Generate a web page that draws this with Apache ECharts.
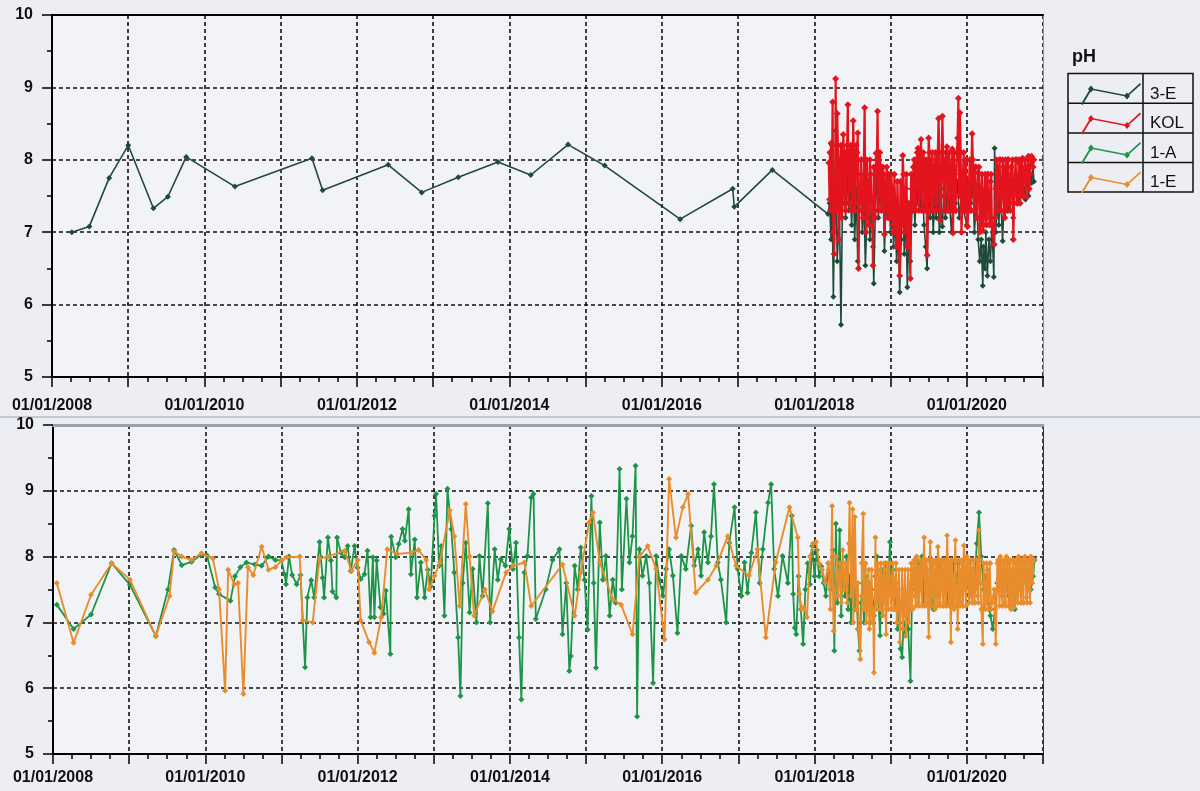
<!DOCTYPE html>
<html><head><meta charset="utf-8">
<script src="https://cdn.jsdelivr.net/npm/echarts@6/dist/echarts.min.js"></script>
<style>html,body{margin:0;padding:0;background:#eceef4;}#c{width:1200px;height:791px;}</style>
</head><body><div id="c"></div>
<script>
// ---- Data (x = decimal year, y = pH) ----
const seriesNames = ['3-E', 'KOL', '1-A', '1-E'];
const xTickLabels = ['01/01/2008','01/01/2010','01/01/2012','01/01/2014','01/01/2016','01/01/2018','01/01/2020'];
const legendTitle = 'pH';

const data3E = [
[2008.26,7.00],[2008.49,7.08],[2008.75,7.75],[2009.00,8.20],[2009.33,7.33],[2009.52,7.49],[2009.76,8.04],[2010.40,7.63],
[2011.41,8.02],[2011.55,7.58],[2012.41,7.93],[2012.85,7.55],[2013.33,7.76],[2013.85,7.97],[2014.28,7.79],[2014.77,8.21],
[2015.25,7.92],[2016.24,7.18],[2016.93,7.60],[2016.95,7.35],[2017.45,7.86],[2018.18,7.25],
[2018.20,7.40],[2018.22,6.90],[2018.23,7.90],[2018.25,6.11],[2018.27,7.60],[2018.28,8.40],[2018.30,6.60],[2018.33,7.30],
[2018.35,5.72],[2018.37,7.50],[2018.39,8.00],[2018.41,7.20],[2018.43,7.90],[2018.45,7.30],[2018.47,7.60],[2018.49,7.10],
[2018.51,7.80],[2018.53,6.90],[2018.55,7.60],[2018.57,6.60],[2018.59,7.30],[2018.61,7.80],[2018.63,7.00],[2018.65,7.50],
[2018.67,6.54],[2018.69,7.20],[2018.71,7.70],[2018.73,6.90],[2018.75,7.40],[2018.77,6.80],[2018.78,6.29],[2018.80,7.30],
[2018.82,7.80],[2018.84,7.20],[2018.86,7.60],[2018.88,7.30],[2018.90,7.70],[2018.92,6.74],[2018.94,7.40],[2018.96,7.20],
[2018.98,7.60],[2019.00,7.00],[2019.02,7.40],[2019.04,6.80],[2019.06,7.20],[2019.08,6.60],[2019.10,7.00],[2019.12,6.17],
[2019.14,6.90],[2019.16,7.60],[2019.18,6.70],[2019.20,7.30],[2019.22,6.24],[2019.24,7.00],[2019.26,6.60],[2019.28,7.30],
[2019.30,7.60],[2019.32,7.10],[2019.34,7.70],[2019.36,7.40],[2019.38,7.80],[2019.40,7.30],[2019.42,7.60],[2019.44,7.10],
[2019.46,6.80],[2019.48,6.50],[2019.50,7.70],[2019.52,7.20],[2019.54,7.60],[2019.56,7.00],[2019.58,7.50],[2019.60,7.20],
[2019.62,7.80],[2019.64,7.00],[2019.66,7.30],[2019.68,7.08],[2019.70,7.60],[2019.72,7.20],[2019.75,7.70],[2019.78,7.30],
[2019.80,7.00],[2019.83,7.60],[2019.85,7.40],[2019.88,7.70],[2019.90,7.20],[2019.93,7.50],[2019.96,7.30],[2020.00,7.10],
[2020.03,7.50],[2020.05,7.40],[2020.08,7.70],[2020.10,7.00],[2020.13,7.50],[2020.15,6.90],[2020.17,6.60],[2020.19,6.90],
[2020.21,6.26],[2020.22,6.80],[2020.24,6.50],[2020.25,7.00],[2020.27,6.40],[2020.29,6.90],[2020.31,6.60],[2020.33,7.10],
[2020.355,6.38],[2020.365,8.16],[2020.38,7.00],[2020.40,7.50],[2020.42,7.10],[2020.44,7.60],[2020.47,6.88],[2020.49,7.50],
[2020.52,7.70],[2020.55,7.30],[2020.58,7.80],[2020.61,7.20],[2020.64,7.70],[2020.67,7.40],[2020.70,7.80],[2020.73,7.50],
[2020.76,7.60],[2020.77,7.45],[2020.79,7.80],[2020.81,7.50],[2020.83,7.90],[2020.85,7.68],[2020.87,7.90],[2020.88,7.70]
];

const dataKOL = [
[2018.19,7.96],[2018.20,7.45],[2018.22,8.23],[2018.24,8.80],[2018.25,7.00],[2018.26,6.70],[2018.28,9.12],[2018.29,7.30],
[2018.30,8.64],[2018.32,6.90],[2018.34,8.00],[2018.36,7.20],[2018.38,8.35],[2018.40,7.50],[2018.42,8.10],[2018.44,8.76],
[2018.46,7.40],[2018.48,8.20],[2018.50,7.60],[2018.51,8.54],[2018.53,7.30],[2018.55,8.20],[2018.57,8.37],[2018.58,6.50],
[2018.60,7.50],[2018.62,8.00],[2018.64,7.20],[2018.66,8.72],[2018.68,7.00],[2018.70,7.60],[2018.72,7.10],[2018.74,7.80],
[2018.75,7.40],[2018.77,6.54],[2018.79,7.50],[2018.81,8.09],[2018.83,8.67],[2018.85,7.70],[2018.87,7.90],[2018.89,7.50],
[2018.91,7.80],[2018.92,6.97],[2018.94,7.70],[2018.96,7.40],[2018.98,7.80],[2019.00,7.20],[2019.02,7.60],[2019.04,7.00],
[2019.06,7.40],[2019.08,6.80],[2019.10,7.30],[2019.12,6.40],[2019.14,7.20],[2019.16,8.06],[2019.18,7.00],[2019.20,7.60],
[2019.22,6.80],[2019.24,7.40],[2019.26,6.36],[2019.28,7.60],[2019.30,7.90],[2019.32,7.40],[2019.34,8.00],[2019.36,8.16],
[2019.38,7.60],[2019.40,8.28],[2019.42,7.70],[2019.44,8.00],[2019.46,7.40],[2019.48,6.68],[2019.50,8.30],[2019.52,7.60],
[2019.54,8.00],[2019.56,7.30],[2019.58,7.90],[2019.60,7.40],[2019.62,8.10],[2019.63,8.57],[2019.65,7.17],[2019.67,7.90],
[2019.68,8.60],[2019.70,7.50],[2019.72,8.00],[2019.74,8.18],[2019.76,7.30],[2019.78,7.90],[2019.80,7.50],[2019.81,8.15],
[2019.82,6.99],[2019.84,7.80],[2019.86,7.30],[2019.88,8.30],[2019.89,8.85],[2019.90,7.50],[2019.91,8.65],[2019.93,7.00],
[2019.95,7.80],[2019.97,7.40],[2019.99,8.00],[2020.01,7.08],[2020.03,7.70],[2020.05,7.30],[2020.07,8.36],[2020.09,7.50],
[2020.11,7.90],[2020.13,7.20],[2020.15,7.82],[2020.17,7.00],[2020.19,7.60],[2020.21,7.02],[2020.23,7.50],[2020.25,7.20],
[2020.27,7.80],[2020.29,7.30],[2020.31,7.70],[2020.33,7.10],[2020.36,6.83],[2020.38,7.60],[2020.40,7.90],[2020.42,7.30],
[2020.44,8.00],[2020.46,7.50],[2020.48,7.90],[2020.50,7.20],[2020.52,7.80],[2020.54,8.00],[2020.56,7.40],[2020.58,7.90],
[2020.61,6.90],[2020.63,7.70],[2020.65,8.00],[2020.67,7.50],[2020.69,7.95],[2020.71,7.60],[2020.73,8.02],[2020.75,7.50],
[2020.77,7.90],[2020.79,7.70],[2020.81,8.05],[2020.83,7.80],[2020.85,8.05],[2020.87,7.90],[2020.88,8.00]
];

const dataKOLBand = [
[2018.205,8.10],[2018.215,7.30],[2018.235,8.20],[2018.275,7.40],[2018.31,8.20],[2018.33,7.30],[2018.35,8.20],[2018.37,7.40],
[2018.39,8.10],[2018.41,7.30],[2018.43,8.20],[2018.45,7.40],[2018.47,8.10],[2018.49,7.30],[2018.52,8.10],[2018.54,7.40],
[2018.56,8.10],[2018.59,7.30],[2018.61,8.00],[2018.63,7.30],[2018.65,8.00],[2018.67,7.40],[2018.69,8.00],[2018.71,7.30],
[2018.73,8.00],[2018.76,7.30],[2018.78,7.90],[2018.80,7.20],[2018.82,8.00],[2018.84,7.30],[2018.86,8.10],[2018.88,7.30],
[2018.90,7.90],[2018.93,7.30],[2018.95,7.90],[2018.97,7.20],[2019.01,7.80],[2019.03,7.10],[2019.05,7.80],[2019.07,7.10],
[2019.09,7.70],[2019.13,7.70],[2019.15,7.10],[2019.17,7.80],[2019.19,7.20],[2019.21,7.80],[2019.23,7.10],[2019.27,7.80],
[2019.29,7.30],[2019.31,8.00],[2019.33,7.30],[2019.35,8.10],[2019.37,7.30],[2019.39,8.10],[2019.41,7.30],[2019.43,8.10],
[2019.45,7.30],[2019.47,8.00],[2019.49,7.30],[2019.51,8.10],[2019.53,7.30],[2019.55,8.10],[2019.57,7.30],[2019.59,8.10],
[2019.61,7.30],[2019.64,8.10],[2019.66,7.30],[2019.69,8.10],[2019.71,7.30],[2019.73,8.10],[2019.75,7.30],[2019.77,8.10],
[2019.79,7.30],[2019.83,8.10],[2019.85,7.30],[2019.87,8.10],[2019.92,8.10],[2019.94,7.30],[2019.96,8.10],[2019.98,7.30],
[2020.00,8.00],[2020.02,7.30],[2020.04,8.00],[2020.06,7.30],[2020.08,8.00],[2020.10,7.30],[2020.12,7.90],[2020.14,7.20],
[2020.16,7.90],[2020.18,7.10],[2020.20,7.80],[2020.22,7.10],[2020.24,7.80],[2020.26,7.10],[2020.28,7.80],[2020.30,7.10],
[2020.32,7.80],[2020.37,7.20],[2020.39,8.00],[2020.41,7.30],[2020.43,8.00],[2020.45,7.30],[2020.47,8.00],[2020.49,7.30],
[2020.51,8.00],[2020.53,7.30],[2020.55,8.00],[2020.57,7.30],[2020.60,8.00],[2020.62,7.40],[2020.64,8.00],[2020.66,7.40],
[2020.68,8.00],[2020.70,7.40],[2020.72,8.00],[2020.74,7.50],[2020.76,8.00],[2020.78,7.50],[2020.80,8.00],[2020.82,7.60]
];

const data1A = [
[2008.05,7.27],[2008.27,6.90],[2008.50,7.12],[2008.77,7.90],[2009.01,7.57],[2009.35,6.79],[2009.51,7.50],[2009.59,8.10],
[2009.69,7.87],[2009.82,7.92],[2009.95,8.03],[2010.02,8.02],[2010.13,7.53],[2010.18,7.43],[2010.33,7.33],[2010.39,7.70],
[2010.46,7.84],[2010.54,7.91],[2010.65,7.88],[2010.74,7.86],[2010.83,8.00],[2010.92,7.95],[2011.00,7.94],
[2011.04,7.73],[2011.06,7.58],[2011.10,8.00],[2011.14,7.72],[2011.20,7.58],[2011.25,7.72],[2011.31,6.32],[2011.34,7.38],
[2011.39,7.64],[2011.43,7.38],[2011.50,8.22],[2011.54,7.68],[2011.56,7.38],[2011.61,8.29],[2011.65,7.94],[2011.67,7.47],
[2011.72,7.38],[2011.73,8.29],[2011.78,8.06],[2011.83,7.99],[2011.87,8.16],[2011.91,7.78],[2011.96,8.16],[2012.00,7.83],
[2012.04,7.66],[2012.09,7.73],[2012.13,8.09],[2012.17,7.08],[2012.20,7.99],[2012.22,7.08],[2012.25,7.94],[2012.30,7.23],
[2012.34,7.13],[2012.37,7.48],[2012.43,6.52],[2012.44,8.30],[2012.50,7.99],[2012.54,8.19],[2012.59,8.42],[2012.62,8.24],
[2012.67,8.72],[2012.70,7.73],[2012.75,8.26],[2012.78,7.38],[2012.83,7.91],[2012.88,7.38],[2012.92,7.80],[2012.96,7.55],
[2013.01,8.62],[2013.03,8.95],[2013.07,7.86],[2013.10,8.16],[2013.14,7.10],[2013.18,9.03],[2013.23,8.42],[2013.27,7.76],
[2013.32,6.77],[2013.35,5.88],[2013.38,7.60],[2013.42,8.21],[2013.47,7.15],[2013.51,7.81],[2013.56,7.00],[2013.60,8.01],
[2013.64,7.40],[2013.71,8.81],[2013.74,7.00],[2013.80,8.11],[2013.84,7.65],[2013.88,7.96],[2013.94,7.86],[2013.99,8.42],
[2014.04,7.81],[2014.08,8.21],[2014.12,6.77],[2014.15,5.83],[2014.19,7.76],[2014.23,8.01],[2014.28,8.90],[2014.31,8.95],
[2014.34,7.05],[2014.47,7.50],[2014.56,7.95],[2014.65,8.11],[2014.69,6.82],[2014.74,7.60],[2014.78,6.26],[2014.80,6.49],
[2014.85,7.86],[2014.89,7.50],[2014.93,8.14],[2014.98,7.65],[2015.02,6.89],[2015.07,8.92],[2015.10,7.60],[2015.13,6.31],
[2015.18,8.52],[2015.22,7.65],[2015.26,8.01],[2015.31,7.10],[2015.35,7.65],[2015.39,7.30],[2015.44,9.33],[2015.47,7.50],
[2015.53,8.88],[2015.57,7.91],[2015.61,8.31],[2015.65,9.38],[2015.67,5.57],[2015.70,8.11],[2015.74,7.71],[2015.79,8.01],
[2015.83,7.60],[2015.88,6.08],[2015.92,8.01],[2015.96,7.65],[2016.01,7.40],[2016.05,7.81],[2016.09,8.11],[2016.14,7.71],
[2016.20,6.84],[2016.25,8.01],[2016.31,7.81],[2016.38,8.47],[2016.42,7.86],[2016.47,8.11],[2016.51,7.71],[2016.55,8.37],
[2016.60,7.91],[2016.64,8.31],[2016.68,9.10],[2016.73,7.91],[2016.77,7.65],[2016.84,7.00],[2016.88,8.21],[2016.95,8.75],
[2016.99,7.81],[2017.04,7.40],[2017.08,7.91],[2017.12,7.45],[2017.17,8.06],[2017.23,8.67],[2017.28,7.60],[2017.32,8.11],
[2017.39,8.82],[2017.43,9.10],[2017.47,7.81],[2017.52,7.40],[2017.58,8.01],[2017.65,7.60],[2017.70,8.62],[2017.72,7.43],
[2017.74,6.92],[2017.76,6.82],[2017.79,7.70],[2017.82,7.20],[2017.85,6.67],[2017.88,7.50],[2017.91,7.90],[2017.94,7.58],
[2017.97,8.16],[2018.00,7.70],[2018.03,8.10],[2018.06,7.70],[2018.09,7.85],[2018.12,7.60],[2018.15,7.40],[2018.18,7.90],
[2018.21,7.50],[2018.24,8.10],[2018.26,6.57],[2018.28,8.50],[2018.30,7.30],[2018.33,8.40],[2018.35,7.10],[2018.37,7.90],
[2018.40,7.40],[2018.42,8.00],[2018.44,7.20],[2018.46,7.70],[2018.48,7.00],[2018.50,7.90],[2018.53,7.20],[2018.55,7.50],
[2018.57,6.90],[2018.59,6.57],[2018.61,7.30],[2018.63,7.60],[2018.65,7.00],[2018.67,7.70],[2018.69,7.20],[2018.71,7.60],
[2018.73,7.00],[2018.75,7.50],[2018.78,7.10],[2018.80,7.70],[2018.82,8.00],[2018.84,7.30],[2018.86,6.80],[2018.88,7.50],
[2018.90,7.80],[2018.92,7.40],[2018.94,7.90],[2018.97,7.60],[2018.99,8.22],[2019.01,7.50],[2019.03,7.80],[2019.05,7.20],
[2019.07,7.60],[2019.09,6.90],[2019.11,7.20],[2019.13,6.60],[2019.15,6.47],[2019.17,7.00],[2019.19,6.80],[2019.21,7.30],
[2019.23,6.90],[2019.26,6.11],[2019.28,7.40],[2019.30,7.80],[2019.32,7.50],[2019.35,7.90],[2019.38,7.60],[2019.41,8.00],
[2019.44,7.30],[2019.47,7.80],[2019.50,7.40],[2019.53,7.90],[2019.56,7.20],[2019.59,7.70],[2019.62,7.40],[2019.65,7.90],
[2019.68,7.50],[2019.71,7.80],[2019.74,7.30],[2019.77,7.70],[2019.80,7.40],[2019.83,7.90],[2019.86,7.60],[2019.89,7.90],
[2019.92,7.50],[2019.95,7.80],[2019.98,7.70],[2020.01,7.60],[2020.04,7.40],[2020.07,7.80],[2020.10,7.50],[2020.13,8.20],
[2020.16,8.67],[2020.19,8.00],[2020.22,7.50],[2020.25,7.70],[2020.28,7.30],[2020.31,7.10],[2020.34,6.90],[2020.37,7.20],
[2020.40,7.60],[2020.43,7.90],[2020.46,7.50],[2020.49,7.80],[2020.52,7.60],[2020.55,7.40],[2020.57,7.33],[2020.60,7.70],
[2020.63,7.20],[2020.66,7.60],[2020.69,7.80],[2020.72,7.50],[2020.75,7.90],[2020.78,7.60],[2020.81,7.80],[2020.84,7.50],
[2020.87,7.70],[2020.89,7.95]
];

const data1E = [
[2008.05,7.60],[2008.27,6.69],[2008.50,7.42],[2008.77,7.90],[2009.01,7.65],[2009.35,6.79],[2009.53,7.40],[2009.59,8.08],
[2009.69,8.00],[2009.82,7.95],[2009.95,8.05],[2010.10,7.97],[2010.18,7.50],[2010.26,5.96],[2010.30,7.80],[2010.38,7.58],
[2010.43,7.60],[2010.50,5.91],[2010.56,7.84],[2010.63,7.72],[2010.74,8.15],[2010.83,7.80],[2010.92,7.84],[2011.00,7.94],
[2011.07,7.99],[2011.24,8.00],[2011.28,7.03],[2011.41,7.00],[2011.50,7.97],[2011.61,8.00],[2011.83,8.09],[2011.92,7.78],
[2012.00,7.95],[2012.04,7.03],[2012.15,6.70],[2012.22,6.54],[2012.31,7.08],[2012.39,8.11],[2012.52,8.04],[2012.70,8.06],
[2012.80,8.10],[2012.90,7.95],[2012.94,7.50],[2013.01,7.71],[2013.08,7.91],[2013.21,8.70],[2013.27,8.31],[2013.34,7.25],
[2013.42,8.80],[2013.47,8.00],[2013.53,7.10],[2013.67,7.50],[2013.77,7.17],[2013.95,7.76],[2014.04,7.86],[2014.19,7.91],
[2014.28,7.25],[2014.69,7.88],[2014.85,7.10],[2014.93,7.76],[2015.04,8.52],[2015.09,8.67],[2015.18,7.91],[2015.35,7.35],
[2015.46,7.27],[2015.61,6.82],[2015.70,8.00],[2015.81,8.16],[2015.92,7.81],[2016.03,6.74],[2016.09,9.18],[2016.18,8.29],
[2016.27,8.75],[2016.34,8.95],[2016.44,7.45],[2016.60,7.65],[2016.71,7.86],[2016.86,8.31],[2016.97,7.86],[2017.14,7.71],
[2017.25,8.11],[2017.36,6.77],[2017.49,7.91],[2017.67,8.75],[2017.78,8.29],[2017.80,7.43],[2017.83,7.20],[2017.86,7.23],
[2017.90,7.08],[2017.94,8.00],[2017.98,8.20],[2018.02,8.22],[2018.06,7.90],[2018.10,7.80],[2018.14,7.60],[2018.18,7.90],
[2018.21,7.20],[2018.23,8.77],[2018.25,6.87],[2018.27,7.50],[2018.29,8.00],[2018.31,7.40],[2018.33,7.90],[2018.35,7.30],
[2018.37,8.10],[2018.39,7.50],[2018.41,7.90],[2018.43,7.30],[2018.45,8.20],[2018.46,8.82],[2018.48,7.40],[2018.50,8.72],
[2018.51,7.00],[2018.53,8.60],[2018.55,7.20],[2018.57,7.60],[2018.58,6.90],[2018.60,6.44],[2018.62,7.40],[2018.64,8.65],
[2018.66,7.30],[2018.68,7.00],[2018.70,7.60],[2018.72,6.90],[2018.74,7.50],[2018.76,7.00],[2018.78,6.24],[2018.80,8.29],
[2018.82,7.40],[2018.84,7.80],[2018.86,7.20],[2018.88,7.70],[2018.90,7.10],[2018.92,7.80],[2018.94,6.82],[2018.96,7.60],
[2018.98,7.90],[2019.00,7.40],[2019.02,7.70],[2019.04,7.20],[2019.06,7.60],[2019.08,7.00],[2019.10,7.50],[2019.12,6.70],
[2019.14,7.30],[2019.16,6.90],[2019.18,7.50],[2019.20,6.80],[2019.22,7.40],[2019.24,7.00],[2019.26,7.60],[2019.28,7.20],
[2019.30,7.90],[2019.32,7.40],[2019.34,8.00],[2019.36,7.30],[2019.38,7.80],[2019.40,7.50],[2019.42,7.90],[2019.44,8.29],
[2019.46,7.30],[2019.48,7.80],[2019.50,6.78],[2019.52,8.22],[2019.54,7.40],[2019.56,7.90],[2019.58,7.20],[2019.60,7.80],
[2019.62,8.15],[2019.64,7.30],[2019.66,7.90],[2019.68,7.50],[2019.70,7.90],[2019.72,7.30],[2019.74,8.32],[2019.76,7.50],
[2019.78,7.90],[2019.79,6.70],[2019.81,7.70],[2019.83,7.20],[2019.85,8.25],[2019.87,7.50],[2019.88,6.90],[2019.90,7.80],
[2019.92,7.30],[2019.94,7.90],[2019.96,8.17],[2019.98,7.50],[2020.00,8.00],[2020.02,7.60],[2020.04,7.90],[2020.06,7.40],
[2020.08,7.80],[2020.10,7.30],[2020.12,7.70],[2020.14,7.40],[2020.16,8.40],[2020.18,7.60],[2020.21,6.67],[2020.23,7.60],
[2020.25,7.30],[2020.27,7.80],[2020.29,7.40],[2020.31,7.90],[2020.33,7.30],[2020.36,7.50],[2020.38,6.67],[2020.40,7.90],
[2020.42,7.50],[2020.44,8.00],[2020.46,7.40],[2020.48,7.90],[2020.50,7.30],[2020.52,8.00],[2020.54,7.60],[2020.56,7.90],
[2020.58,7.20],[2020.60,7.80],[2020.62,7.23],[2020.64,7.90],[2020.66,7.40],[2020.68,8.00],[2020.70,7.50],[2020.72,7.90],
[2020.74,7.30],[2020.76,8.00],[2020.78,7.38],[2020.80,7.90],[2020.82,7.50],[2020.84,8.00],[2020.86,7.60],[2020.88,7.95]
];

const data1EBand = [
[2018.62,7.90],[2018.65,7.20],[2018.67,7.90],[2018.69,7.20],[2018.71,7.80],[2018.73,7.10],[2018.75,7.80],[2018.77,7.20],
[2018.81,7.20],[2018.83,7.90],[2018.85,7.30],[2018.87,7.90],[2018.89,7.20],[2018.91,7.90],[2018.93,7.30],[2018.95,7.90],
[2018.97,7.20],[2018.99,7.90],
[2019.01,7.20],[2019.03,7.90],[2019.05,7.20],[2019.07,7.90],[2019.09,7.20],[2019.11,7.80],[2019.13,7.20],[2019.15,7.80],
[2019.17,7.10],[2019.19,7.80],[2019.21,7.10],[2019.23,7.80],[2019.25,7.20],[2019.27,7.90],[2019.29,7.20],[2019.31,7.95],
[2019.33,7.25],[2019.35,7.95],[2019.37,7.25],[2019.39,7.95],[2019.41,7.25],[2019.43,7.95],[2019.45,7.25],[2019.47,7.95],
[2019.49,7.25],[2019.51,7.95],[2019.53,7.25],[2019.55,7.95],[2019.57,7.25],[2019.59,7.95],[2019.61,7.25],[2019.63,7.95],
[2019.65,7.25],[2019.67,7.95],[2019.69,7.25],[2019.71,7.95],[2019.73,7.25],[2019.75,7.95],[2019.77,7.25],[2019.80,7.95],
[2019.82,7.25],[2019.84,7.95],[2019.86,7.25],[2019.89,7.95],[2019.91,7.25],[2019.93,7.95],[2019.95,7.25],[2019.97,7.95],
[2019.99,7.25],[2020.01,7.95],[2020.03,7.30],[2020.05,7.95],[2020.07,7.30],[2020.09,7.95],[2020.11,7.30],[2020.13,7.95],
[2020.15,7.30],[2020.17,7.95],[2020.19,7.20],[2020.22,7.90],[2020.24,7.20],[2020.26,7.90],[2020.28,7.20],[2020.30,7.90],
[2020.32,7.20],[2020.41,7.95],[2020.43,7.25],[2020.45,7.95],[2020.47,7.25],[2020.49,7.95],[2020.51,7.25],[2020.53,7.95],
[2020.55,7.25],[2020.57,7.95],[2020.59,7.25],[2020.61,7.95],[2020.63,7.30],[2020.65,7.95],[2020.67,7.30],[2020.69,7.95],
[2020.71,7.30],[2020.73,7.95],[2020.75,7.30],[2020.77,7.95],[2020.79,7.30],[2020.81,7.95],[2020.83,7.30],[2020.85,7.95]
];

// ---- Styling ----
const colors = {'3-E':'#1f4a3a','KOL':'#e3141e','1-A':'#1d9448','1-E':'#e98c2c'};
const legendIconPath = 'path://M0,21 L9.2,5.4 L10.8,6.6 L1.6,22 Z M10,5.2 L46,12.2 L46,13.8 L10,6.8 Z M45.4,12.4 L59,0 L60,1.4 L46.6,13.6 Z M10,2.5 L13,6 L10,9.5 L7,6 Z M46,9.5 L49,13 L46,16.5 L43,13 Z';
const FONT = 'Liberation Sans, Arial, sans-serif';

const byX = (a, b) => a[0] - b[0];
const kolAll = dataKOL.concat(dataKOLBand).sort(byX);
const e1All = data1E.concat(data1EBand).sort(byX);

const fmtX = v => {
  const lbl = '01/01/' + v;
  return xTickLabels.indexOf(lbl) >= 0 ? lbl : '';
};

function xAxisFor(grid, margin) {
  return {
    type:'value', gridIndex:grid, min:2008, max:2021, interval:1, position:'bottom',
    axisLine:{show:true, onZero:false, lineStyle:{color:'#000', width:2}},
    axisTick:{show:true, length:10, lineStyle:{color:'#000', width:1.5}},
    minorTick:{show:true, splitNumber:4, length:5, lineStyle:{color:'#000', width:1.5}},
    splitLine:{show:true, lineStyle:{color:'#111', type:[4,3], width:1.6}},
    axisLabel:{formatter:fmtX, fontSize:16, fontWeight:'bold', color:'#111', margin:margin, fontFamily:FONT, showMinLabel:true, hideOverlap:false}
  };
}
function xTopFor(grid, color, width) {
  return {
    type:'value', gridIndex:grid, min:2008, max:2021, position:'top',
    axisLine:{show:true, onZero:false, lineStyle:{color:color, width:width}},
    axisTick:{show:false}, axisLabel:{show:false}, splitLine:{show:false}
  };
}
function yAxisFor(grid) {
  return {
    type:'value', gridIndex:grid, min:5, max:10, interval:1, position:'left',
    axisLine:{show:true, onZero:false, lineStyle:{color:'#000', width:2}},
    axisTick:{show:true, length:10, lineStyle:{color:'#000', width:1.5}},
    minorTick:{show:true, splitNumber:2, length:5, lineStyle:{color:'#000', width:1.5}},
    splitLine:{show:true, lineStyle:{color:'#111', type:[4,3], width:1.6}},
    axisLabel:{fontSize:16, fontWeight:'bold', color:'#111', margin:19, fontFamily:FONT}
  };
}
function yRightFor(grid, color) {
  return {
    type:'value', gridIndex:grid, min:5, max:10, position:'right',
    axisLine:{show:true, onZero:false, lineStyle:{color:color, width:1}},
    axisTick:{show:false}, axisLabel:{show:false}, splitLine:{show:false}
  };
}
function lineSeries(name, data, xi, yi, z, lw, ss) {
  return {
    name, type:'line', data, xAxisIndex:xi, yAxisIndex:yi, z,
    symbol:'diamond', symbolSize:ss, showAllSymbol:true,
    lineStyle:{color:colors[name], width:lw},
    itemStyle:{color:colors[name]},
    emphasis:{disabled:true}, animation:false
  };
}

const chart = echarts.init(document.getElementById('c'), null, {renderer:'canvas'});
chart.setOption({
  backgroundColor:'#eceef4',
  animation:false,
  title:{text:legendTitle, left:1067, top:43, textStyle:{fontSize:18, fontWeight:'bold', color:'#111', fontFamily:FONT}},
  grid:[
    {left:52, top:15, width:991, height:362, show:true, backgroundColor:'#f2f3f7', borderWidth:0},
    {left:53, top:425, width:990, height:329, show:true, backgroundColor:'#f2f3f7', borderWidth:0}
  ],
  xAxis:[xAxisFor(0, 21), xTopFor(0,'#000',2), xAxisFor(1, 16), xTopFor(1,'#9ca0aa',3)],
  yAxis:[yAxisFor(0), yRightFor(0,'#8a8e98'), yAxisFor(1), yRightFor(1,'#333')],
  legend:{
    orient:'vertical', left:1076, top:78, itemWidth:60, itemHeight:22, itemGap:7.5,
    selectedMode:false,
    data: seriesNames.map(n => ({name:n, icon:legendIconPath})),
    textStyle:{fontSize:17, color:'#111', padding:[0,0,0,4], fontFamily:FONT}
  },
  graphic:[
    {type:'line', shape:{x1:0,y1:417,x2:1200,y2:417}, style:{stroke:'#c4c8d1', lineWidth:2}, silent:true},
    {type:'rect', shape:{x:1068,y:73.5,width:125,height:118.5}, style:{fill:'none', stroke:'#111', lineWidth:1.5}, silent:true},
    {type:'line', shape:{x1:1143,y1:73.5,x2:1143,y2:192}, style:{stroke:'#111', lineWidth:1.5}, silent:true},
    {type:'line', shape:{x1:1068,y1:103.2,x2:1193,y2:103.2}, style:{stroke:'#111', lineWidth:1.5}, silent:true},
    {type:'line', shape:{x1:1068,y1:133,x2:1193,y2:133}, style:{stroke:'#111', lineWidth:1.5}, silent:true},
    {type:'line', shape:{x1:1068,y1:162.5,x2:1193,y2:162.5}, style:{stroke:'#111', lineWidth:1.5}, silent:true}
  ],
  series:[
    lineSeries('3-E', data3E, 0, 0, 2, 1.6, 6),
    lineSeries('KOL', kolAll, 0, 0, 3, 2.2, 7),
    lineSeries('1-A', data1A, 2, 2, 2, 1.8, 6),
    lineSeries('1-E', e1All, 2, 2, 3, 1.9, 6)
  ]
});
</script>
</body></html>
